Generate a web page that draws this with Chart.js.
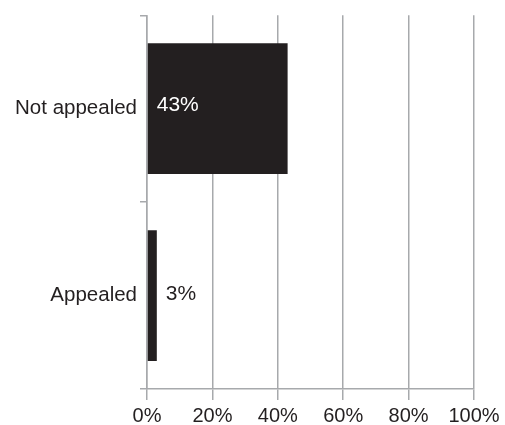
<!DOCTYPE html>
<html>
<head>
<meta charset="utf-8">
<script src="https://cdn.jsdelivr.net/npm/chart.js@4"></script>
<style>
  html, body { margin: 0; padding: 0; background: #fff; }
  #wrap { width: 505px; height: 425px; }
</style>
</head>
<body>
<div id="wrap"><canvas id="appeals"></canvas></div>
<script>
const categories = ['Not appealed', 'Appealed'];
const shares = [43, 3];
const xTicks = [0, 20, 40, 60, 80, 100];

const ink = '#231f20';
const rule = '#a7a9ac';
const family = "'Liberation Sans', Arial, Helvetica, sans-serif";

// percentages next to / inside each bar
const barLabels = {
  id: 'barLabels',
  afterDatasetsDraw(chart) {
    const c = chart.ctx;
    const meta = chart.getDatasetMeta(0);
    c.save();
    c.font = '21px ' + family;
    c.textBaseline = 'middle';
    c.textAlign = 'left';
    meta.data.forEach((bar, i) => {
      const inside = (bar.x - bar.base) > 60;
      c.fillStyle = inside ? '#ffffff' : ink;
      if (inside) c.fillText(shares[i] + '%', bar.base + 9, bar.y - 4);
      else c.fillText(shares[i] + '%', bar.x + 9, bar.y - 1);
    });
    c.restore();
  }
};

new Chart(document.getElementById('appeals'), {
  type: 'bar',
  data: {
    labels: categories,
    datasets: [{
      data: shares,
      backgroundColor: ink,
      borderWidth: 0,
      barPercentage: 0.7,
      categoryPercentage: 1
    }]
  },
  options: {
    indexAxis: 'y',
    responsive: true,
    maintainAspectRatio: false,
    animation: false,
    layout: { padding: { top: 7, right: 31, left: 0, bottom: 0 } },
    plugins: { legend: { display: false }, tooltip: { enabled: false } },
    scales: {
      x: {
        min: 0,
        max: 100,
        afterBuildTicks(axis) { axis.ticks = xTicks.map(v => ({ value: v })); },
        afterFit(axis) { axis.height = 36; },
        grid: { color: rule, lineWidth: 1.5, tickLength: 11 },
        border: { color: rule, width: 1.5 },
        ticks: { color: ink, font: { family: family, size: 20 }, padding: 4, callback: v => v + '%' }
      },
      y: {
        afterFit(axis) { axis.width = 147; },
        grid: { offset: true, drawOnChartArea: false, color: rule, lineWidth: 1.5, tickLength: 7 },
        border: { color: rule, width: 1.5 },
        ticks: { color: ink, font: { family: family, size: 20.5 }, padding: 3 }
      }
    }
  },
  plugins: [barLabels]
});
</script>
</body>
</html>
